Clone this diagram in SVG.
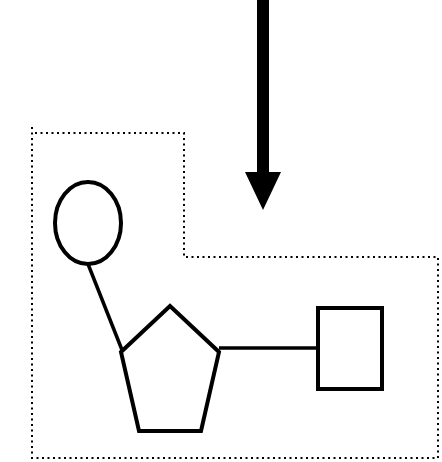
<svg xmlns="http://www.w3.org/2000/svg" width="442" height="462" viewBox="0 0 442 462">
<style>
.shape{fill:#fff;stroke:#000;stroke-width:4}
.conn{fill:none;stroke:#000;stroke-width:3.5}
.dots{fill:none;stroke:#000;stroke-width:2;stroke-dasharray:2 3.5}
</style>
<rect width="442" height="462" fill="#fff"/>
<g id="boundary">
<path class="dots" d="M32,127 V458 H438 V257 H184 V133 H32"/>
</g>
<g id="arrow">
<polygon points="257,0 269,0 269,172 281,172 263,210 245,172 257,172" fill="#000"/>
</g>
<g id="connectors">
<line class="conn" x1="88" y1="264" x2="122" y2="350"/>
<line class="conn" x1="219" y1="348" x2="318" y2="348"/>
</g>
<g id="ellipse">
<ellipse class="shape" cx="88" cy="223" rx="33" ry="41"/>
</g>
<g id="pentagon">
<polygon class="shape" points="170,306 219,352 201,431 139,431 121,352"/>
</g>
<g id="rect">
<rect class="shape" x="318" y="308" width="64" height="81"/>
</g>
</svg>
